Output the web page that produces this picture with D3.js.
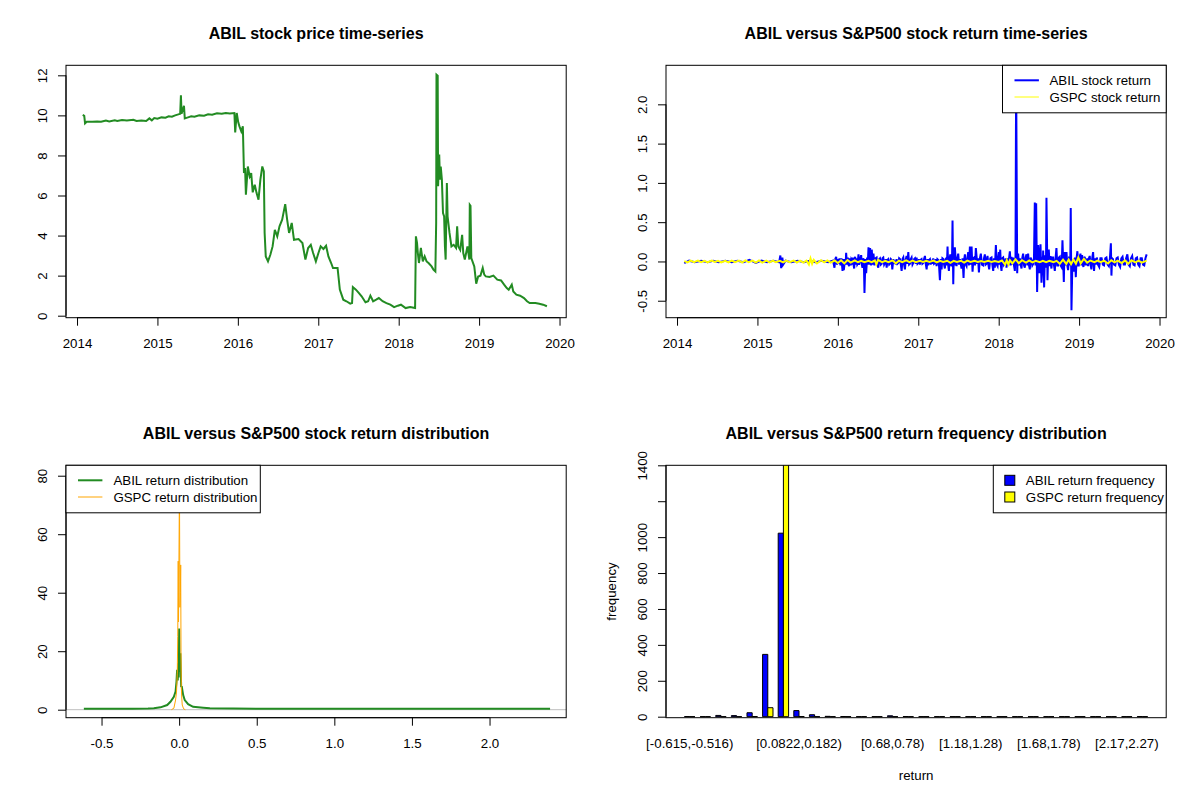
<!DOCTYPE html>
<html>
<head>
<meta charset="utf-8">
<script src="https://cdn.jsdelivr.net/npm/d3@7"></script>
<style>
  body { margin: 0; background: #fff; }
</style>
</head>
<body>
<svg id="chart" width="1200" height="800"></svg>
<script>
// ---- data ----

// ABIL closing price, [year, price]
const priceSeries = [
  [2014.071,10.02],[2014.09,9.98],[2014.10,9.6],[2014.12,9.68],[2014.19,9.68],[2014.25,9.7],
  [2014.30,9.68],[2014.36,9.74],[2014.40,9.70],[2014.47,9.75],[2014.50,9.72],[2014.56,9.77],
  [2014.62,9.75],[2014.70,9.78],[2014.74,9.72],[2014.80,9.75],[2014.86,9.72],[2014.90,9.85],
  [2014.93,9.75],[2014.96,9.87],[2015.00,9.83],[2015.05,9.9],[2015.10,9.88],[2015.14,9.95],
  [2015.18,9.93],[2015.22,10.0],[2015.26,10.05],[2015.283,10.08],[2015.292,11.0],[2015.30,10.08],
  [2015.33,10.48],[2015.34,9.85],[2015.38,9.9],[2015.42,9.95],[2015.46,9.93],[2015.52,10.0],
  [2015.58,9.98],[2015.63,10.05],[2015.68,10.03],[2015.74,10.1],[2015.80,10.08],[2015.85,10.12],
  [2015.90,10.1],[2015.957,10.12],[2015.967,9.15],
  [2015.986,10.12],[2016.005,9.65],[2016.02,9.45],[2016.043,9.2],[2016.062,9.45],[2016.076,7.12],
  [2016.09,7.37],[2016.10,6.04],[2016.124,7.45],[2016.147,6.95],[2016.166,7.12],[2016.185,6.16],
  [2016.21,6.54],[2016.233,6.12],[2016.257,5.79],[2016.28,6.79],[2016.304,7.45],[2016.323,7.2],
  [2016.333,4.13],[2016.347,2.96],[2016.375,2.71],[2016.404,3.04],[2016.432,3.46],[2016.46,4.29],
  [2016.49,3.96],[2016.518,4.46],[2016.551,4.79],[2016.589,5.57],[2016.613,4.79],[2016.637,4.13],
  [2016.67,4.63],[2016.698,3.79],[2016.755,3.83],[2016.803,3.63],[2016.84,2.8],[2016.874,3.38],
  [2016.907,3.54],[2016.936,3.13],[2016.97,2.71],[2017.002,3.13],[2017.03,3.46],[2017.064,3.33],
  [2017.097,3.49],[2017.126,2.96],[2017.16,2.63],[2017.183,2.38],[2017.24,2.38],[2017.268,1.3],
  [2017.311,0.8],[2017.35,0.72],[2017.397,0.6],[2017.42,0.63],[2017.43,1.43],[2017.468,1.3],
  [2017.506,1.13],[2017.539,0.97],[2017.587,0.67],[2017.62,0.72],[2017.648,1.0],[2017.682,0.72],
  [2017.72,0.8],[2017.753,0.88],[2017.8,0.72],[2017.848,0.63],[2017.896,0.55],[2017.943,0.43],
  [2017.99,0.5],[2018.028,0.55],[2018.086,0.38],[2018.142,0.43],[2018.204,0.38],[2018.214,3.96],
  [2018.228,3.63],[2018.238,3.13],[2018.252,2.63],[2018.276,3.38],[2018.30,2.71],[2018.323,2.96],
  [2018.347,2.71],[2018.371,2.63],[2018.409,2.46],[2018.432,2.30],[2018.456,2.21],[2018.466,4.63],
  [2018.47,12.03],[2018.485,11.98],[2018.49,6.46],[2018.504,8.04],[2018.513,6.79],[2018.523,7.45],
  [2018.537,6.79],[2018.551,5.12],[2018.565,4.96],[2018.575,3.46],[2018.584,2.8],[2018.599,6.62],
  [2018.608,4.96],[2018.632,4.13],[2018.656,3.46],[2018.684,3.54],[2018.713,3.38],[2018.727,4.46],
  [2018.741,3.46],[2018.765,3.29],[2018.789,4.04],[2018.803,3.13],[2018.822,2.8],[2018.855,3.46],
  [2018.879,2.8],[2018.884,5.54],[2018.893,5.49],[2018.903,2.88],[2018.94,2.46],[2018.964,1.6],
  [2018.988,1.96],[2019.017,2.0],[2019.045,2.38],[2019.064,2.05],[2019.083,1.96],[2019.13,1.93],
  [2019.178,2.0],[2019.226,1.8],[2019.273,1.76],[2019.311,1.55],[2019.344,1.38],[2019.368,1.3],
  [2019.406,1.55],[2019.425,1.21],[2019.463,1.05],[2019.51,1.0],[2019.558,0.88],[2019.596,0.72],
  [2019.629,0.63],[2019.7,0.63],[2019.748,0.6],[2019.796,0.55],[2019.843,0.47]
];

// ABIL daily return, [year, return]
const abilReturns = [
  [2014.09,-0.02],[2014.15,0.01],[2014.22,-0.01],[2014.30,0.01],[2014.38,-0.01],[2014.45,0.01],
  [2014.52,-0.01],[2014.60,0.01],[2014.68,-0.01],[2014.75,0.01],[2014.83,-0.01],[2014.90,0.02],
  [2014.98,-0.02],[2015.05,0.01],[2015.12,-0.01],[2015.20,0.01],[2015.27,-0.01],[2015.285,0.076],
  [2015.295,-0.085],[2015.31,0.05],[2015.32,-0.04],[2015.35,0.01],[2015.42,-0.01],[2015.50,0.01],
  [2015.58,-0.01],[2015.65,0.01],[2015.72,-0.01],[2015.80,0.01],[2015.88,-0.01],[2015.94,0.01],
  [2015.958,-0.08],[2015.968,0.03],[2015.979,0.06],[2015.99,-0.04],[2016.0,0.03],[2016.008,-0.03],
  [2016.02,0.04],[2016.033,-0.05],[2016.045,0.04],[2016.058,-0.12],[2016.066,0.03],[2016.074,-0.11],
  [2016.082,-0.04],[2016.091,0.03],[2016.097,-0.04],[2016.103,0.11],[2016.114,-0.04],[2016.124,0.05],
  [2016.132,-0.04],[2016.14,-0.06],[2016.15,0.04],[2016.161,-0.05],[2016.168,0.03],[2016.174,0.02],
  [2016.18,-0.04],[2016.186,0.05],[2016.195,-0.04],[2016.203,-0.09],[2016.21,0.04],[2016.215,0.06],
  [2016.225,-0.04],[2016.236,0.04],[2016.242,-0.04],[2016.248,-0.03],[2016.252,0.04],[2016.257,0.09],
  [2016.263,-0.04],[2016.269,-0.02],[2016.28,0.04],[2016.29,0.08],[2016.298,-0.04],[2016.306,-0.08],
  [2016.315,0.04],[2016.323,0.02],[2016.331,-0.40],[2016.343,0.03],[2016.352,-0.15],[2016.364,0.05],
  [2016.372,-0.04],[2016.381,0.18],[2016.393,-0.04],[2016.401,0.17],[2016.414,-0.05],[2016.422,0.15],
  [2016.432,-0.04],[2016.443,0.10],[2016.455,-0.05],[2016.468,0.04],[2016.482,0.05],[2016.492,-0.04],
  [2016.503,-0.08],[2016.514,0.03],[2016.524,0.04],[2016.535,-0.04],[2016.545,-0.03],[2016.555,0.04],
  [2016.565,0.05],[2016.576,-0.04],[2016.586,-0.02],[2016.596,0.03],[2016.607,-0.08],[2016.617,0.02],
  [2016.627,0.03],[2016.638,-0.04],[2016.648,-0.03],[2016.659,0.03],[2016.669,0.02],[2016.677,-0.10],
  [2016.69,0.03],[2016.70,-0.03],[2016.71,0.01],[2016.72,-0.04],[2016.73,0.03],[2016.741,-0.03],
  [2016.752,-0.02],[2016.762,0.04],[2016.772,0.03],[2016.783,-0.04],[2016.793,-0.12],[2016.804,0.03],
  [2016.814,0.05],[2016.824,-0.04],[2016.834,-0.10],[2016.845,0.03],[2016.855,0.07],[2016.865,-0.03],
  [2016.876,0.12],[2016.886,-0.04],[2016.896,-0.03],[2016.907,0.03],[2016.917,0.05],[2016.928,-0.04],
  [2016.938,-0.02],[2016.949,0.03],[2016.959,0.04],[2016.969,-0.03],[2016.979,0.05],[2016.99,-0.03],
  [2017.0,-0.02],[2017.01,0.03],[2017.02,-0.04],[2017.03,0.02],[2017.041,0.03],[2017.051,-0.03],
  [2017.062,-0.02],[2017.072,0.03],[2017.083,0.07],[2017.093,-0.03],[2017.104,-0.10],[2017.114,0.03],
  [2017.124,-0.05],[2017.135,0.02],[2017.145,0.03],[2017.155,-0.04],[2017.165,0.02],[2017.176,-0.03],
  [2017.186,0.04],[2017.196,-0.03],[2017.207,-0.02],[2017.217,0.03],[2017.228,-0.06],[2017.238,0.03],
  [2017.248,0.02],[2017.258,-0.05],[2017.269,-0.24],[2017.28,0.03],[2017.29,-0.10],[2017.30,0.04],
  [2017.311,0.03],[2017.321,-0.04],[2017.331,-0.09],[2017.34,0.03],[2017.348,0.04],[2017.356,-0.05],
  [2017.364,0.19],[2017.372,-0.04],[2017.381,-0.12],[2017.39,0.04],[2017.398,0.09],[2017.406,-0.04],
  [2017.414,-0.06],[2017.42,0.04],[2017.426,0.52],[2017.435,-0.29],[2017.441,0.05],[2017.447,0.03],
  [2017.451,-0.05],[2017.455,0.18],[2017.465,0.03],[2017.476,-0.06],[2017.486,0.04],[2017.497,0.10],
  [2017.507,-0.04],[2017.518,0.03],[2017.528,-0.03],[2017.538,-0.09],[2017.55,0.04],[2017.563,-0.21],
  [2017.572,0.03],[2017.58,0.09],[2017.59,-0.04],[2017.60,-0.06],[2017.61,0.04],[2017.621,0.12],
  [2017.631,-0.05],[2017.642,0.19],[2017.654,-0.04],[2017.663,0.19],[2017.675,-0.13],[2017.686,0.04],
  [2017.696,0.05],[2017.706,-0.05],[2017.716,0.17],[2017.733,-0.03],[2017.744,0.04],[2017.754,-0.14],
  [2017.766,0.04],[2017.778,0.10],[2017.792,-0.04],[2017.807,-0.05],[2017.817,0.04],[2017.828,0.09],
  [2017.838,-0.04],[2017.849,-0.03],[2017.855,0.04],[2017.861,0.07],[2017.872,-0.04],[2017.882,-0.10],
  [2017.896,0.04],[2017.911,0.05],[2017.921,-0.04],[2017.932,-0.12],[2017.942,0.04],[2017.952,-0.08],
  [2017.958,0.04],[2017.965,0.21],[2017.976,-0.04],[2017.986,-0.06],[2017.994,0.04],[2018.002,0.12],
  [2018.01,-0.04],[2018.019,0.15],[2018.027,-0.05],[2018.035,-0.12],[2018.046,0.04],[2018.056,0.05],
  [2018.066,-0.04],[2018.077,-0.02],[2018.087,0.04],[2018.097,-0.08],[2018.108,0.04],[2018.118,-0.05],
  [2018.129,0.04],[2018.139,0.13],[2018.149,-0.05],[2018.159,0.06],[2018.17,-0.04],[2018.18,0.05],
  [2018.19,-0.05],[2018.201,-0.12],[2018.209,0.05],[2018.217,2.37],[2018.23,-0.15],[2018.236,0.05],
  [2018.242,0.10],[2018.252,-0.05],[2018.263,0.04],[2018.273,-0.04],[2018.284,-0.09],[2018.294,0.05],
  [2018.304,0.10],[2018.315,-0.05],[2018.325,-0.08],[2018.335,0.05],[2018.346,0.09],[2018.356,-0.05],
  [2018.366,0.10],[2018.377,-0.05],[2018.387,-0.10],[2018.397,0.05],[2018.408,0.02],[2018.418,-0.05],
  [2018.429,-0.03],[2018.439,0.05],[2018.449,0.75],[2018.458,-0.05],[2018.466,0.74],[2018.478,-0.39],
  [2018.491,0.21],[2018.507,-0.15],[2018.52,0.22],[2018.532,-0.27],[2018.545,0.06],[2018.549,-0.05],
  [2018.553,0.14],[2018.565,-0.33],[2018.574,0.08],[2018.582,0.05],[2018.588,-0.08],[2018.594,0.81],
  [2018.607,-0.24],[2018.615,0.05],[2018.623,0.15],[2018.633,-0.06],[2018.644,0.07],[2018.65,-0.04],
  [2018.656,-0.09],[2018.667,0.05],[2018.677,0.05],[2018.688,-0.05],[2018.698,-0.12],[2018.708,0.05],
  [2018.718,0.17],[2018.729,-0.05],[2018.739,-0.05],[2018.75,0.05],[2018.76,0.06],[2018.77,-0.05],
  [2018.781,-0.07],[2018.787,0.05],[2018.793,0.27],[2018.81,-0.26],[2018.816,0.05],[2018.822,0.12],
  [2018.833,-0.05],[2018.843,0.12],[2018.853,-0.05],[2018.863,-0.11],[2018.874,0.05],[2018.884,0.05],
  [2018.89,-0.05],[2018.896,0.68],[2018.905,-0.62],[2018.917,0.02],[2018.928,-0.05],[2018.938,-0.13],
  [2018.949,0.05],[2018.959,-0.20],[2018.969,0.05],[2018.979,0.13],[2018.988,-0.05],[2018.996,-0.05],
  [2019.006,0.05],[2019.017,0.10],[2019.027,-0.05],[2019.037,0.08],[2019.046,-0.04],[2019.054,-0.07],
  [2019.062,0.04],[2019.07,0.06],[2019.08,-0.04],[2019.091,-0.04],[2019.101,0.04],[2019.112,-0.06],
  [2019.122,0.04],[2019.132,0.07],[2019.142,-0.04],[2019.153,-0.10],[2019.163,0.04],[2019.174,0.12],
  [2019.186,-0.12],[2019.196,0.04],[2019.208,-0.04],[2019.22,0.05],[2019.235,-0.04],[2019.25,-0.07],
  [2019.265,0.04],[2019.28,0.04],[2019.295,-0.04],[2019.31,-0.05],[2019.325,0.04],[2019.34,0.05],
  [2019.355,-0.04],[2019.37,-0.06],[2019.383,0.04],[2019.395,0.23],[2019.402,-0.18],[2019.41,0.04],
  [2019.42,0.03],[2019.435,-0.04],[2019.45,-0.05],[2019.465,0.04],[2019.48,0.05],[2019.495,-0.04],
  [2019.51,-0.07],[2019.525,0.04],[2019.54,0.06],[2019.555,-0.04],[2019.57,-0.04],[2019.585,0.04],
  [2019.60,0.09],[2019.615,-0.04],[2019.63,-0.06],[2019.645,0.04],[2019.66,0.07],[2019.675,-0.04],
  [2019.69,-0.05],[2019.705,0.04],[2019.72,0.05],[2019.735,-0.04],[2019.75,-0.06],[2019.765,0.04],
  [2019.78,0.04],[2019.795,-0.04],[2019.81,-0.05],[2019.825,0.04],[2019.84,0.09]
];

// S&P500 (GSPC) daily return, [year, return]
const gspcReturns = [
  [2014.09,0.005],[2014.13,-0.012],[2014.17,0.01],[2014.21,-0.008],[2014.26,0.012],[2014.30,-0.01],
  [2014.34,0.008],[2014.38,-0.012],[2014.43,0.01],[2014.47,-0.006],[2014.51,0.009],[2014.55,-0.011],
  [2014.60,0.007],[2014.64,-0.013],[2014.68,0.01],[2014.72,-0.009],[2014.77,0.012],[2014.81,-0.015],
  [2014.85,0.013],[2014.89,-0.01],[2014.94,0.011],[2014.98,-0.014],[2015.02,0.012],[2015.06,-0.016],
  [2015.11,0.01],[2015.15,-0.012],[2015.19,0.011],[2015.23,-0.01],[2015.28,0.009],[2015.32,-0.011],
  [2015.36,0.01],[2015.40,-0.009],[2015.45,0.012],[2015.49,-0.013],[2015.53,0.011],[2015.57,-0.015],
  [2015.61,0.01],[2015.64,-0.039],[2015.66,0.038],[2015.68,-0.03],[2015.70,0.02],[2015.74,-0.025],
  [2015.79,0.015],[2015.83,-0.012],[2015.87,0.013],[2015.91,-0.014],[2015.96,0.012],[2016.00,-0.02],
  [2016.04,0.015],[2016.08,-0.025],[2016.12,0.018],[2016.16,-0.015],[2016.21,0.014],[2016.25,-0.01],
  [2016.29,0.009],[2016.33,-0.008],[2016.38,0.008],[2016.42,-0.01],[2016.46,0.012],[2016.48,-0.036],
  [2016.50,0.02],[2016.55,-0.008],[2016.59,0.007],[2016.63,-0.009],[2016.68,0.014],[2016.72,-0.024],
  [2016.76,0.01],[2016.80,-0.01],[2016.85,0.014],[2016.89,-0.009],[2016.93,0.01],[2016.97,-0.008],
  [2017.02,0.008],[2017.06,-0.006],[2017.10,0.008],[2017.14,-0.007],[2017.19,0.01],[2017.23,-0.012],
  [2017.27,0.008],[2017.31,-0.007],[2017.36,0.009],[2017.40,-0.018],[2017.44,0.008],[2017.48,-0.006],
  [2017.53,0.009],[2017.57,-0.015],[2017.61,0.01],[2017.65,-0.006],[2017.70,0.007],[2017.74,-0.005],
  [2017.78,0.006],[2017.82,-0.006],[2017.87,0.008],[2017.91,-0.005],[2017.95,0.006],[2018.00,-0.007],
  [2018.04,0.012],[2018.08,-0.041],[2018.10,0.017],[2018.12,-0.038],[2018.14,0.015],[2018.17,-0.025],
  [2018.21,0.027],[2018.25,-0.022],[2018.29,0.016],[2018.34,-0.014],[2018.38,0.012],[2018.42,-0.011],
  [2018.46,0.009],[2018.51,-0.01],[2018.55,0.009],[2018.59,-0.008],[2018.63,0.007],[2018.68,-0.008],
  [2018.72,0.008],[2018.76,-0.03],[2018.80,0.022],[2018.84,-0.032],[2018.87,0.023],[2018.90,-0.033],
  [2018.93,0.025],[2018.96,-0.028],[2018.99,0.05],[2019.02,-0.025],[2019.06,0.034],[2019.10,-0.015],
  [2019.14,0.012],[2019.19,-0.01],[2019.23,0.011],[2019.27,-0.009],[2019.31,0.01],[2019.36,-0.026],
  [2019.40,0.015],[2019.44,-0.012],[2019.48,0.011],[2019.53,-0.02],[2019.57,0.013],[2019.61,-0.03],
  [2019.65,0.014],[2019.70,-0.012],[2019.74,0.011],[2019.78,-0.015],[2019.84,0.01]
];

// kernel density of returns, [return, density]
const abilDensity = [
  [-0.614,0.35],[-0.3,0.35],[-0.2,0.4],[-0.163,0.5],[-0.12,0.8],[-0.077,1.6],[-0.056,2.7],
  [-0.034,4.4],[-0.023,6.2],[-0.017,9.6],[-0.013,13.6],[-0.009,10],[-0.006,15.9],[-0.003,11],
  [0.0,27.8],[0.004,13],[0.008,19.3],[0.013,8],[0.017,7.9],[0.026,5],[0.036,3.3],[0.058,1.9],
  [0.09,1],[0.155,0.7],[0.198,0.5],[0.5,0.35],[1.0,0.35],[1.5,0.35],[2.0,0.35],[2.39,0.35]
];
const gspcDensity = [
  [-0.05,0],[-0.034,0.5],[-0.023,3.3],[-0.017,6],[-0.012,12.5],[-0.009,25],[-0.006,50.8],
  [-0.004,30],[-0.002,45],[0.002,77],[0.005,35],[0.008,40],[0.01,49.5],[0.012,20],[0.014,7.9],
  [0.017,4],[0.02,1.6],[0.029,0.3],[0.04,0]
];

// return histogram: 30 bins
const binBreaks = ["-0.615","-0.516","-0.416","-0.317","-0.217","-0.118","-0.0181","0.0822","0.182",
  "0.281","0.381","0.481","0.58","0.68","0.78","0.879","0.979","1.08","1.18","1.28","1.38","1.48",
  "1.58","1.68","1.78","1.87","1.97","2.07","2.17","2.27","2.37"];
const abilFreq = [1,0,7,6,22,347,1022,34,11,2,1,0,0,5,1,0,0,0,0,0,0,0,0,0,0,0,0,0,0,1];
const gspcFreq = [0,0,0,0,1,50,1405,1,0,0,0,0,0,0,0,0,0,0,0,0,0,0,0,0,0,0,0,0,0,0];
const shownBins = [0,7,13,18,23,28];

const yearTicks = [2014,2015,2016,2017,2018,2019,2020];
const priceTicks = [0,2,4,6,8,10,12];
const returnTicks = [-0.5,0,0.5,1,1.5,2];
const densXTicks = [-0.5,0,0.5,1,1.5,2];
const densYTicks = [0,20,40,60,80];
const freqTicks = [0,200,400,600,800,1000,1200,1400];
const freqLabels = ["0","200","400","600","800","1000","","1400"];

// ---- drawing ----
const FONT = "'Liberation Sans', Arial, sans-serif";
const svg = d3.select("#chart").attr("font-family", FONT);

function panel(col, row, id) {
  const p = {left: col * 600 + 66, right: col * 600 + 566.2, top: row * 400 + 65.3, bottom: row * 400 + 317.7, id: id};
  svg.append("clipPath").attr("id", id)
    .append("rect").attr("x", p.left).attr("y", p.top)
    .attr("width", p.right - p.left).attr("height", p.bottom - p.top);
  return p;
}

function frame(p, title) {
  svg.append("rect")
    .attr("x", p.left).attr("y", p.top)
    .attr("width", p.right - p.left).attr("height", p.bottom - p.top)
    .attr("fill", "none").attr("stroke", "#000").attr("stroke-width", 1);
  svg.append("text")
    .attr("x", (p.left + p.right) / 2).attr("y", p.top - 26)
    .attr("text-anchor", "middle").attr("font-weight", "bold").attr("font-size", 16)
    .text(title);
}

function xAxis(p, x, ticks, fmt) {
  const g = svg.append("g").attr("transform", `translate(0,${p.bottom})`)
    .call(d3.axisBottom(x).tickValues(ticks).tickFormat(fmt).tickSize(8).tickSizeOuter(0));
  g.attr("font-family", FONT).attr("font-size", 13.3);
  g.select(".domain").attr("d", `M${x(ticks[0])},0H${x(ticks[ticks.length - 1])}`);
  g.selectAll(".tick text").attr("y", 30).attr("dy", null).attr("fill", "#000");
}

function yAxis(p, y, ticks, fmt) {
  const g = svg.append("g").attr("transform", `translate(${p.left},0)`)
    .call(d3.axisLeft(y).tickValues(ticks).tickFormat(fmt).tickSize(8).tickSizeOuter(0));
  g.attr("font-family", FONT).attr("font-size", 13.3);
  g.select(".domain").attr("d", `M0,${y(ticks[0])}V${y(ticks[ticks.length - 1])}`);
  g.selectAll(".tick text")
    .attr("x", 0).attr("y", -19).attr("dy", null)
    .attr("transform", "rotate(-90)").attr("text-anchor", "middle").attr("fill", "#000");
}

function legend(x0, x1, y0, rows) {
  const g = svg.append("g");
  g.append("rect").attr("x", x0).attr("y", y0).attr("width", x1 - x0).attr("height", 47.5)
    .attr("fill", "#fff").attr("stroke", "#000");
  rows.forEach((r, i) => {
    const cy = y0 + 15 + i * 16.7;
    if (r.box) {
      g.append("rect").attr("x", x0 + 11.5).attr("y", cy - 5).attr("width", 10).attr("height", 10)
        .attr("fill", r.color).attr("stroke", "#000");
    } else {
      g.append("line").attr("x1", x0 + 12).attr("x2", x0 + 36.4).attr("y1", cy).attr("y2", cy)
        .attr("stroke", r.color).attr("stroke-width", r.width);
    }
    g.append("text").attr("x", x0 + r.tx).attr("y", cy + 4.8).attr("font-size", 13.3).text(r.label);
  });
}

const fmtSigned = d => d === 0 ? "0.0" : d3.format(".1f")(d).replace("−", "-");

// 1. price time-series
{
  const p = panel(0, 0, "clipPrice");
  const x = d3.scaleLinear().domain([2013.863, 2020.083]).range([p.left, p.right]);
  const y = d3.scaleLinear().domain([-0.1, 12.5]).range([p.bottom, p.top]);
  svg.append("path").datum(priceSeries)
    .attr("clip-path", "url(#clipPrice)")
    .attr("d", d3.line().x(d => x(d[0])).y(d => y(d[1])))
    .attr("fill", "none").attr("stroke", "#228B22").attr("stroke-width", 2);
  frame(p, "ABIL stock price time-series");
  xAxis(p, x, yearTicks, d3.format("d"));
  yAxis(p, y, priceTicks, d3.format("d"));
}

// 2. return time-series
{
  const p = panel(1, 0, "clipRet");
  const x = d3.scaleLinear().domain([2013.863, 2020.083]).range([p.left, p.right]);
  const y = d3.scaleLinear().domain([-0.716, 2.497]).range([p.bottom, p.top]);
  const line = d3.line().x(d => x(d[0])).y(d => y(d[1]));
  svg.append("path").datum(abilReturns).attr("clip-path", "url(#clipRet)")
    .attr("d", line).attr("fill", "none").attr("stroke", "#0000FF").attr("stroke-width", 2);
  svg.append("path").datum(gspcReturns).attr("clip-path", "url(#clipRet)")
    .attr("d", line).attr("fill", "none").attr("stroke", "#FFFF00").attr("stroke-width", 2);
  frame(p, "ABIL versus S&P500 stock return time-series");
  xAxis(p, x, yearTicks, d3.format("d"));
  yAxis(p, y, returnTicks, fmtSigned);
  legend(1002.5, p.right, p.top, [
    {label: "ABIL stock return", color: "#0000FF", width: 2, tx: 47},
    {label: "GSPC stock return", color: "#FFFF00", width: 1, tx: 47}
  ]);
}

// 3. return density
{
  const p = panel(0, 1, "clipDens");
  const x = d3.scaleLinear().domain([-0.729, 2.494]).range([p.left, p.right]);
  const y = d3.scaleLinear().domain([-2.735, 83.56]).range([p.bottom, p.top]);
  const line = d3.line().x(d => x(d[0])).y(d => y(d[1]));
  svg.append("line").attr("x1", p.left).attr("x2", p.right).attr("y1", y(0)).attr("y2", y(0))
    .attr("stroke", "#BEBEBE").attr("stroke-width", 1);
  svg.append("path").datum(abilDensity).attr("clip-path", "url(#clipDens)")
    .attr("d", line).attr("fill", "none").attr("stroke", "#228B22").attr("stroke-width", 2);
  svg.append("path").datum(gspcDensity).attr("clip-path", "url(#clipDens)")
    .attr("d", line).attr("fill", "none").attr("stroke", "#FFA500").attr("stroke-width", 1);
  frame(p, "ABIL versus S&P500 stock return distribution");
  xAxis(p, x, densXTicks, fmtSigned);
  yAxis(p, y, densYTicks, d3.format("d"));
  legend(p.left, 260.3, p.top, [
    {label: "ABIL return distribution", color: "#228B22", width: 2, tx: 47.4},
    {label: "GSPC return distribution", color: "#FFA500", width: 1, tx: 47.4}
  ]);
}

// 4. return frequency histogram (grouped bars)
{
  const p = panel(1, 1, "clipFreq");
  const x = d3.scaleLinear().domain([-2.56, 93.56]).range([p.left, p.right]);
  const y = d3.scaleLinear().domain([-5.6, 1400]).range([p.bottom, p.top]);
  const barPath = (x0, x1, v) => `M${x(x0)},${y(0)}H${x(x1)}V${y(v)}H${x(x0)}Z`;
  const bars = svg.append("g").attr("clip-path", "url(#clipFreq)");
  bars.selectAll("path.abil").data(abilFreq).join("path")
    .attr("class", "abil")
    .attr("d", (d, i) => barPath(3 * i + 1, 3 * i + 2, d))
    .attr("fill", "#0000FF").attr("stroke", "#000").attr("stroke-width", 1);
  bars.selectAll("path.gspc").data(gspcFreq).join("path")
    .attr("class", "gspc")
    .attr("d", (d, i) => barPath(3 * i + 2, 3 * i + 3, d))
    .attr("fill", "#FFFF00").attr("stroke", "#000").attr("stroke-width", 1);
  frame(p, "ABIL versus S&P500 return frequency distribution");
  yAxis(p, y, freqTicks, (d, i) => freqLabels[i]);
  svg.append("g").selectAll("text").data(shownBins).join("text")
    .attr("x", k => x(3 * k + 2)).attr("y", p.bottom + 30)
    .attr("text-anchor", "middle").attr("font-size", 13.3)
    .text(k => `[${binBreaks[k]},${binBreaks[k + 1]})`);
  svg.append("text").attr("x", (p.left + p.right) / 2).attr("y", p.bottom + 62.5)
    .attr("text-anchor", "middle").attr("font-size", 13.3).text("return");
  svg.append("text").attr("transform", `translate(615.5,${(p.top + p.bottom) / 2}) rotate(-90)`)
    .attr("text-anchor", "middle").attr("font-size", 13.3).text("frequency");
  legend(993.3, p.right, p.top, [
    {label: "ABIL return frequency", color: "#0000FF", box: true, tx: 32.5},
    {label: "GSPC return frequency", color: "#FFFF00", box: true, tx: 32.5}
  ]);
}
</script>
</body>
</html>
